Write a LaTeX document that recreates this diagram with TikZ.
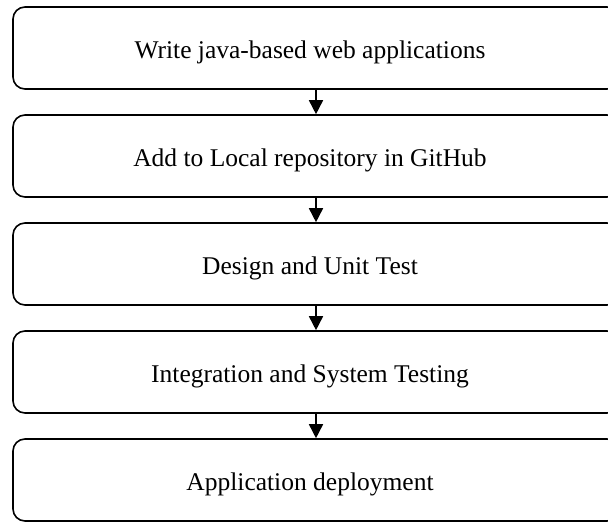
\documentclass[tikz,border=0pt]{standalone}
\usepackage{fontspec}
\setmainfont{Liberation Serif}
\usetikzlibrary{arrows.meta}
\begin{document}
\begin{tikzpicture}[x=1pt,y=-1pt,
  stepbox/.style={draw=black,line width=1.6pt,rounded corners=12pt,minimum width=606pt,minimum height=82pt,inner sep=0pt,text height=20pt,text depth=0pt,font=\fontsize{25.5}{29}\selectfont,execute at end node={\hspace*{12pt}}},
  conn/.style={line width=1.6pt,-{Triangle[width=14pt,length=14pt]}}]
\clip (0,0) rectangle (608,525);
\useasboundingbox (0,0) rectangle (608,525);
\node[stepbox] (s1) at (316,48) {Write java-based web applications};
\node[stepbox] (s2) at (316,156) {Add to Local repository in GitHub};
\node[stepbox] (s3) at (316,264) {Design and Unit Test};
\node[stepbox] (s4) at (316,372) {Integration and System Testing};
\node[stepbox] (s5) at (316,480) {Application deployment};
\draw[conn] (s1.south) -- (s2.north);
\draw[conn] (s2.south) -- (s3.north);
\draw[conn] (s3.south) -- (s4.north);
\draw[conn] (s4.south) -- (s5.north);
\end{tikzpicture}
\end{document}
